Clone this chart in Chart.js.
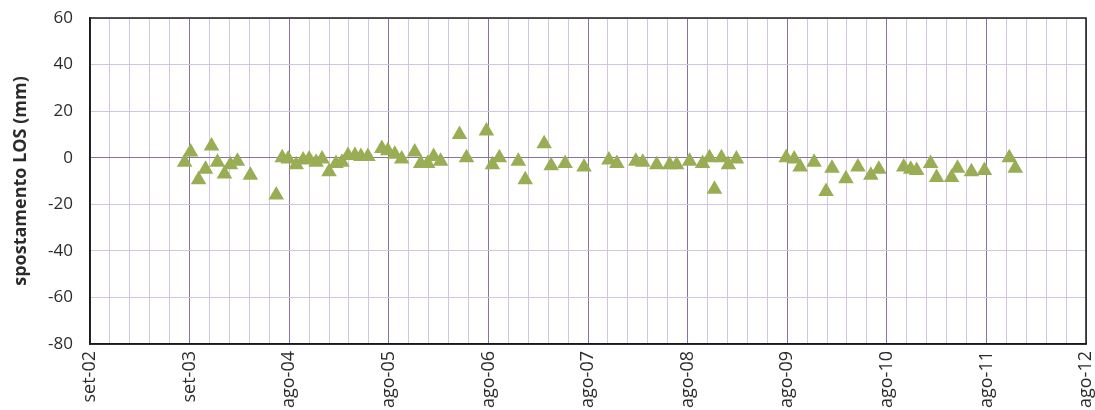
<!DOCTYPE html>
<html>
<head>
<meta charset="utf-8">
<script src="https://cdn.jsdelivr.net/npm/chart.js@4.4.1/dist/chart.umd.min.js"></script>
<style>
  html, body { margin: 0; padding: 0; background: #ffffff; overflow: hidden; }
  #wrap { width: 1095px; height: 410px; position: relative; }
</style>
</head>
<body>
<div id="wrap"><canvas id="c" width="1095" height="410"></canvas></div>
<script>
// Tick labels on the time axis (one per major division)
const xTickLabels = ['set-02','set-03','ago-04','ago-05','ago-06','ago-07','ago-08','ago-09','ago-10','ago-11','ago-12'];

// Acquisition positions, in axis divisions since set-02
const acqTime = [
  0.95, 1.01, 1.09, 1.16, 1.22, 1.28, 1.35, 1.41, 1.48, 1.61,
  1.87, 1.93, 1.99, 2.07, 2.14, 2.20, 2.27, 2.33, 2.40, 2.47,
  2.53, 2.59, 2.66, 2.72, 2.79, 2.93, 2.99, 3.06, 3.13, 3.26,
  3.32, 3.39, 3.45, 3.52, 3.71, 3.78, 3.98, 4.04, 4.11, 4.30,
  4.37, 4.56, 4.63, 4.77, 4.96, 5.21, 5.29, 5.48, 5.55, 5.69,
  5.82, 5.89, 6.02, 6.15, 6.22, 6.27, 6.34, 6.41, 6.49, 6.99,
  7.07, 7.13, 7.27, 7.39, 7.45, 7.59, 7.71, 7.84, 7.92, 8.17,
  8.24, 8.30, 8.44, 8.50, 8.65, 8.71, 8.85, 8.98, 9.23, 9.29
];

// LOS displacement (mm)
const losDisplacement = [
  -2, 2.5, -9.5, -5, 5, -2, -7, -3, -1.5, -7.5,
  -16, 0, -0.5, -3, -1, -0.5, -2, -0.5, -6, -2.5,
  -2, 1, 1, 0.5, 0.5, 4, 3, 1.5, -0.5, 2.5,
  -2.5, -2.5, 0.5, -1.5, 10, 0, 11.5, -3, 0, -1.5,
  -9.5, 6, -3.5, -2.5, -4, -1, -2.5, -1.5, -2, -3,
  -3, -3, -1.5, -2.5, 0, -13.5, 0, -3, -0.5, 0,
  -0.5, -4, -2, -14.5, -4.5, -9, -4, -7.5, -5, -4,
  -5, -5.5, -2.5, -8.5, -8.5, -4.5, -6, -5.5, 0, -4.5
];

const yMin = -80, yMax = 60, yStep = 10, yLabelStep = 20;
const xMin = 0, xMax = 10, xMinorPerMajor = 5;

const points = acqTime.map((t, i) => ({ x: t, y: losDisplacement[i] }));

const frame = {
  id: 'frame',
  afterDraw(chart) {
    const a = chart.chartArea, ctx = chart.ctx;
    ctx.save();
    ctx.strokeStyle = '#1a1a1a';
    ctx.lineWidth = 1.5;
    ctx.strokeRect(a.left, a.top, a.right - a.left, a.bottom - a.top);
    ctx.restore();
  }
};

new Chart(document.getElementById('c'), {
  type: 'scatter',
  data: {
    datasets: [{
      data: points,
      pointStyle: 'triangle',
      radius: 9,
      hoverRadius: 9,
      backgroundColor: '#99ae54',
      borderColor: '#99ae54',
      borderWidth: 0
    }]
  },
  options: {
    responsive: false,
    animation: false,
    events: [],
    layout: { padding: { top: 18, right: 8, left: 0, bottom: 0 } },
    plugins: { legend: { display: false }, tooltip: { enabled: false } },
    scales: {
      x: {
        type: 'linear',
        min: xMin, max: xMax,
        afterBuildTicks(scale) {
          const t = [];
          for (let i = 0; i <= (xMax - xMin) * xMinorPerMajor; i++) t.push({ value: xMin + i / xMinorPerMajor });
          scale.ticks = t;
        },
        afterFit(scale) {
          scale.height = 66;
          scale.paddingLeft = 0; scale.paddingRight = 0;
        },
        ticks: {
          autoSkip: false,
          minRotation: 90, maxRotation: 90,
          padding: 7,
          color: '#2b2b2b',
          font: { family: 'Open Sans', size: 18 },
          callback(v) {
            const i = Math.round((v - xMin) * xMinorPerMajor);
            return i % xMinorPerMajor === 0 ? xTickLabels[i / xMinorPerMajor] : '';
          }
        },
        grid: {
          drawTicks: false,
          lineWidth: 1,
          color(ctx) {
            const v = ctx.tick ? ctx.tick.value : 0;
            return Math.abs(v - Math.round(v)) < 1e-6 ? '#8a73a0' : '#d3c5e0';
          }
        },
        border: { display: true, color: '#1a1a1a', width: 1.5 }
      },
      y: {
        min: yMin, max: yMax,
        afterBuildTicks(scale) {
          const t = [];
          for (let v = yMin; v <= yMax; v += yStep) t.push({ value: v });
          scale.ticks = t;
        },
        afterFit(scale) {
          scale.width = 90;
          scale.paddingTop = 0; scale.paddingBottom = 0;
        },
        ticks: {
          padding: 17,
          color: '#2b2b2b',
          font: { family: 'Open Sans', size: 17 },
          callback(v) { return v % yLabelStep === 0 ? String(v) : ''; }
        },
        title: {
          display: true,
          text: 'spostamento LOS (mm)',
          color: '#2b2b2b',
          font: { family: 'Open Sans', size: 18, weight: 'bold' },
          padding: { top: 10, bottom: 0 }
        },
        grid: {
          drawTicks: false,
          lineWidth: 1,
          color(ctx) {
            const v = ctx.tick ? ctx.tick.value : 1;
            return v === 0 ? '#8a73a0' : '#d3c5e0';
          }
        },
        border: { display: true, color: '#1a1a1a', width: 1.5 }
      }
    }
  },
  plugins: [frame]
});
</script>
</body>
</html>
